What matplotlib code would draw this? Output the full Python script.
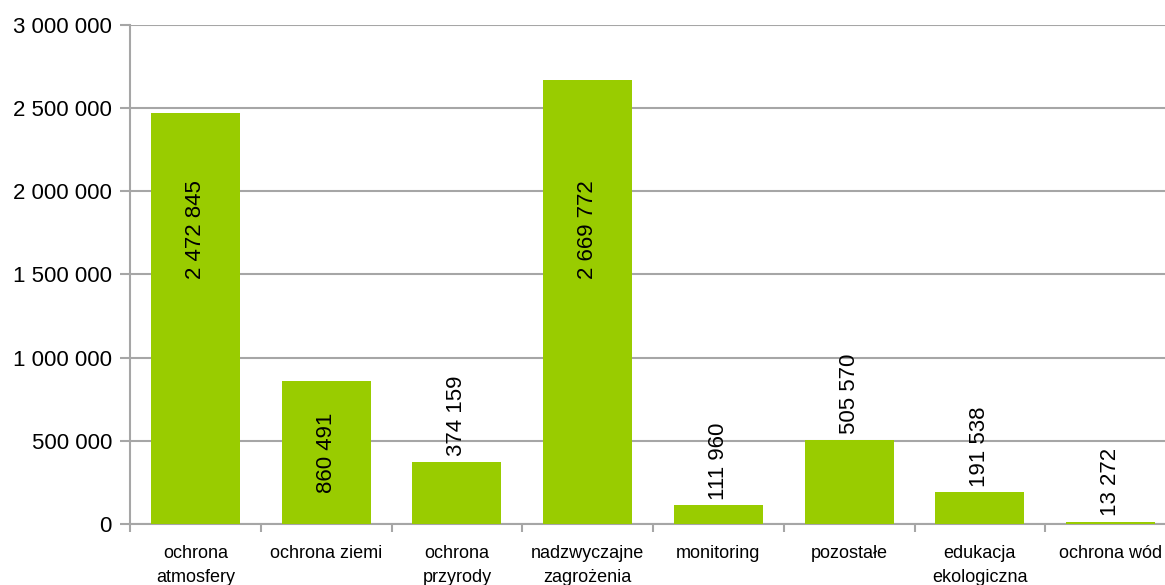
import matplotlib
matplotlib.use("Agg")
import matplotlib.pyplot as plt
from matplotlib.ticker import FuncFormatter, FixedLocator

plt.rcParams['font.family'] = ['Liberation Sans Narrow', 'Liberation Sans', 'DejaVu Sans']

categories = ['ochrona\natmosfery', 'ochrona ziemi', 'ochrona\nprzyrody', 'nadzwyczajne\nzagrożenia',
              'monitoring', 'pozostałe', 'edukacja\nekologiczna', 'ochrona wód']
values = [2472845, 860491, 374159, 2669772, 111960, 505570, 191538, 13272]


def fmt(v):
    return f"{int(v):,}".replace(",", " ")


fig = plt.figure(figsize=(11.65, 5.85), dpi=100)
# plot area runs a little past the right edge of the picture
ax = fig.add_axes([130 / 1165, 0.1043, 1046 / 1165, 0.8530])

x = range(len(values))
ax.bar(x, values, width=0.68, color='#99CC00', zorder=3)

ax.set_xlim(-0.5, len(values) - 0.5)
ax.set_ylim(0, 3000000)
ax.set_yticks(range(0, 3000001, 500000))
ax.yaxis.set_major_formatter(FuncFormatter(lambda v, p: fmt(v)))
ax.grid(axis='y', color='#A6A6A6', linewidth=1.5, zorder=0)

ax.set_xticks(list(x))
ax.set_xticklabels(categories, fontsize=13, linespacing=1.55)
ax.tick_params(axis='x', which='major', length=0, pad=15)
ax.xaxis.set_minor_locator(FixedLocator([i - 0.5 for i in range(len(values) + 1)]))
ax.tick_params(axis='x', which='minor', length=6, width=1.5, color='#A6A6A6')
ax.tick_params(axis='y', length=7, width=1.5, color='#A6A6A6', labelsize=16, pad=6)

for s in ['top', 'right']:
    ax.spines[s].set_visible(False)
for s in ['left', 'bottom']:
    ax.spines[s].set_color('#A6A6A6')
    ax.spines[s].set_linewidth(1.5)

# value labels: inside the tall bars, above the short ones
for i, v in enumerate(values):
    if v > 2000000:
        ax.text(i, 1770000, fmt(v), rotation=90, ha='center', va='center', fontsize=16, zorder=4)
    elif v > 700000:
        ax.text(i, v / 2, fmt(v), rotation=90, ha='center', va='center', fontsize=16, zorder=4)
    else:
        ax.annotate(fmt(v), (i, v), xytext=(0, 4), textcoords='offset points',
                    rotation=90, ha='center', va='bottom', fontsize=16, zorder=4)

fig.savefig('out.png', dpi=100)
